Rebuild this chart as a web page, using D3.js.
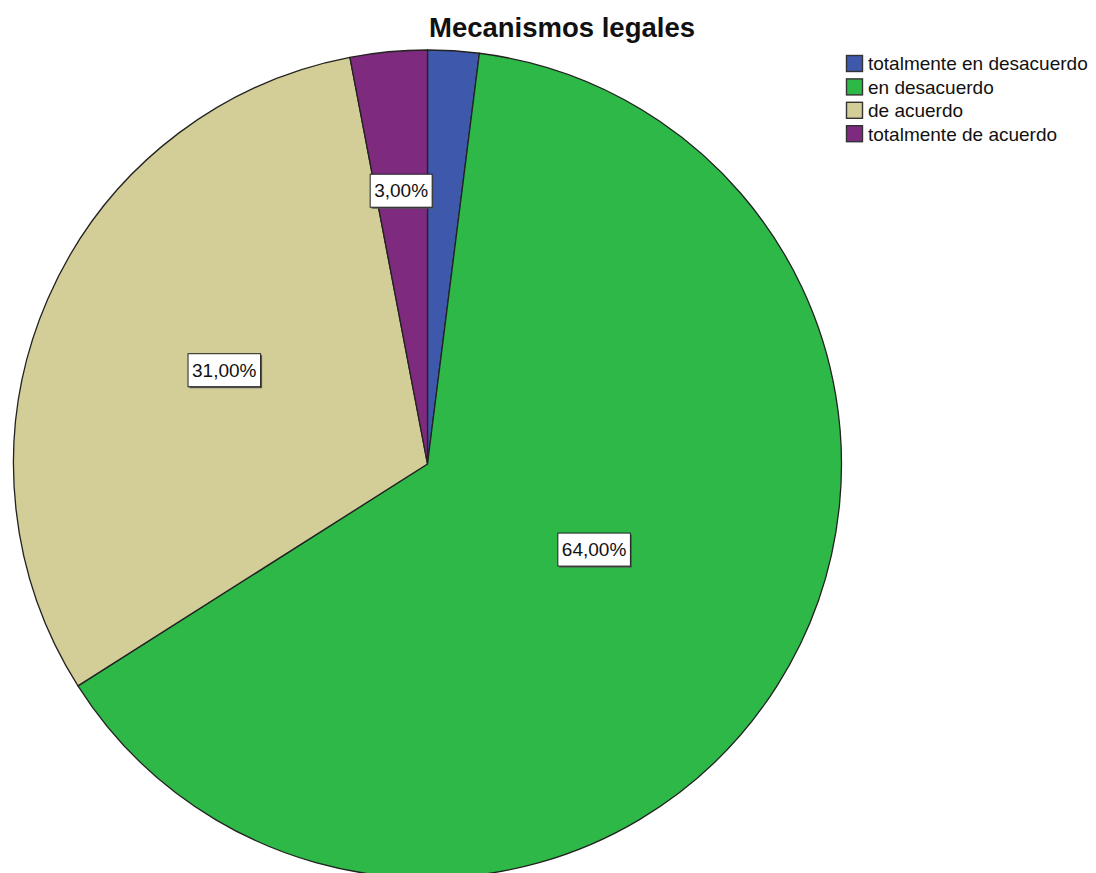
<!DOCTYPE html>
<html><head><meta charset="utf-8">
<script src="https://cdn.jsdelivr.net/npm/d3@7"></script>
<style>body{margin:0;background:#fff;} svg{display:block;}</style>
</head><body>
<script>
const categories = ["totalmente en desacuerdo", "en desacuerdo", "de acuerdo", "totalmente de acuerdo"];
const values = [2, 64, 31, 3];
const labels = ["", "64,00%", "31,00%", "3,00%"];
const colors = ["#3e58ac", "#2eb848", "#d3ce97", "#7e2a7e"];
// label placement within each slice: fraction of slice angle, fraction of radius
const labelAngleFrac = [0.5, 0.477, 0.513, 0.49];
const labelRadiusFrac = [0.5, 0.452, 0.541, 0.664];

const W = 1096, H = 873;
const cx = 427.5, cy = 464, R = 414;
const font = "Liberation Sans, Arial, sans-serif";
const svg = d3.select("body").append("svg").attr("width", W).attr("height", H);

svg.append("text").attr("x", 562).attr("y", 37).attr("text-anchor", "middle")
  .attr("font-family", font).attr("font-weight", "bold")
  .attr("font-size", 27.5).attr("fill", "#111").text("Mecanismos legales");

const pie = d3.pie().sort(null).value(d => d)(values);
const arc = d3.arc().innerRadius(0).outerRadius(R);
const g = svg.append("g").attr("transform", `translate(${cx},${cy})`);
g.selectAll("path").data(pie).join("path")
  .attr("d", arc).attr("fill", (d, i) => colors[i])
  .attr("stroke", "#222").attr("stroke-width", 1.3).attr("stroke-linejoin", "round");

pie.forEach((d, i) => {
  if (!labels[i]) return;
  const a = d.startAngle + (d.endAngle - d.startAngle) * labelAngleFrac[i];
  const r = R * labelRadiusFrac[i];
  const x = Math.sin(a) * r, y = -Math.cos(a) * r;
  const lg = g.append("g").attr("transform", `translate(${x},${y})`);
  const t = lg.append("text").attr("text-anchor", "middle").attr("dy", "0.36em")
    .attr("font-family", font).attr("font-size", 19)
    .attr("fill", "#111").text(labels[i]);
  const bb = t.node().getBBox();
  const pw = 4, ph = 6;
  lg.insert("rect", "text").attr("x", bb.x - pw + 1.5).attr("y", bb.y - ph + 1.5)
    .attr("width", bb.width + 2 * pw).attr("height", bb.height + 2 * ph).attr("fill", "#555");
  lg.insert("rect", "text").attr("x", bb.x - pw).attr("y", bb.y - ph)
    .attr("width", bb.width + 2 * pw).attr("height", bb.height + 2 * ph)
    .attr("fill", "#fff").attr("stroke", "#222").attr("stroke-width", 1);
});

const leg = svg.append("g").attr("transform", "translate(846,55)");
categories.forEach((c, i) => {
  const y = i * 23.4;
  leg.append("rect").attr("x", 0.5).attr("y", y + 0.5).attr("width", 16).attr("height", 16)
    .attr("fill", colors[i]).attr("stroke", "#333").attr("stroke-width", 1.4);
  leg.append("text").attr("x", 22).attr("y", y + 8.5).attr("dy", "0.36em")
    .attr("font-family", font).attr("font-size", 19)
    .attr("fill", "#111").text(c);
});
</script>
</body></html>
